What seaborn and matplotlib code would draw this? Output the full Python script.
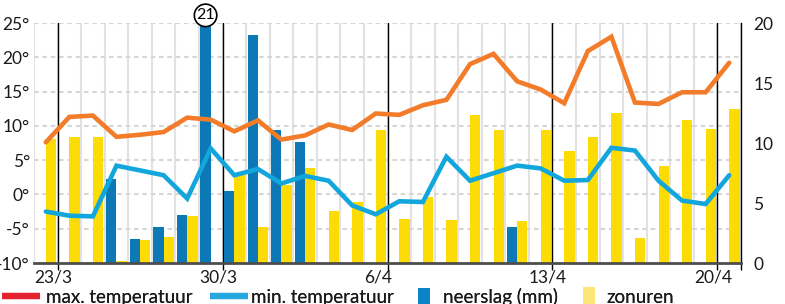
import numpy as np
import pandas as pd
import matplotlib
matplotlib.use("Agg")
import matplotlib.pyplot as plt
import matplotlib.transforms as mtransforms
from matplotlib.lines import Line2D
import seaborn as sns

# ---------------- data ----------------
day_index = list(range(30))
max_temp = [7.6, 11.3, 11.5, 8.4, 8.7, 9.1, 11.2, 10.9, 9.2, 10.8,
            8.0, 8.6, 10.2, 9.4, 11.8, 11.6, 13.0, 13.8, 19.0, 20.5,
            16.5, 15.3, 13.3, 20.9, 23.0, 13.4, 13.2, 14.9, 14.9, 19.2]
min_temp = [-2.5, -3.1, -3.2, 4.2, 3.5, 2.8, -0.6, 6.7, 2.8, 3.7,
            1.6, 2.7, 2.0, -1.6, -2.9, -1.0, -1.1, 5.5, 2.0, 3.1,
            4.2, 3.8, 2.0, 2.1, 6.8, 6.4, 2.0, -0.9, -1.4, 2.8]
rain_mm = [0, 0, 0, 7.0, 2.0, 3.0, 4.0, 21, 6.0, 19.0,
           11.1, 10.1, 0, 0, 0, 0, 0, 0, 0, 0,
           3.0, 0, 0, 0, 0, 0, 0, 0, 0, 0]
sun_hours = [10.3, 10.5, 10.5, 0.2, 1.9, 2.2, 3.9, 0, 7.3, 3.0,
             6.5, 7.9, 4.3, 5.1, 11.1, 3.7, 5.5, 3.6, 12.3, 11.1,
             3.5, 11.1, 9.3, 10.5, 12.5, 2.1, 8.1, 11.9, 11.2, 12.8]
date_labels = ["23/3", "30/3", "6/4", "13/4", "20/4"]
label_days = [0, 7, 14, 21, 28]
temp_ticks = [-10, -5, 0, 5, 10, 15, 20, 25]
bar_ticks = [0, 5, 10, 15, 20]
legend_labels = ["max. temperatuur", "min. temperatuur", "neerslag (mm)", "zonuren"]

# ---------------- style ----------------
ORANGE = "#f27c2a"
CYAN = "#12a6dd"
RAIN = "#0d78b6"
SUN = "#fcdc04"
LEG_MAX = "#e4222f"
LEG_MIN = "#27a8e0"
LEG_RAIN = "#0a84c6"
LEG_SUN = "#fde577"
TXT = "#1a1a1a"

sns.set_style("white")
plt.rcParams["font.family"] = ["Lato", "DejaVu Sans"]

fig = plt.figure(figsize=(7.85, 3.04), dpi=100)
ax_bar = fig.add_axes([34 / 785, 1 - 263 / 304, (741 - 34) / 785, 240 / 304])
ax_t = ax_bar.twinx()

# bars (right axis scale)
bars_df = pd.DataFrame({
    "day": day_index * 2,
    "value": rain_mm + sun_hours,
    "kind": ["neerslag"] * len(day_index) + ["zonuren"] * len(day_index),
})
sns.barplot(data=bars_df, x="day", y="value", hue="kind",
            palette={"neerslag": RAIN, "zonuren": SUN}, dodge=True,
            width=0.88, errorbar=None, legend=False, saturation=1,
            linewidth=0, ax=ax_bar, zorder=2)

# temperature lines (left axis scale)
temp_df = pd.DataFrame({"day": day_index, "max": max_temp, "min": min_temp})
sns.lineplot(data=temp_df, x="day", y="min", color=CYAN, lw=3.3, ax=ax_t,
             solid_joinstyle="miter", zorder=3)
sns.lineplot(data=temp_df, x="day", y="max", color=ORANGE, lw=3.3, ax=ax_t,
             solid_joinstyle="miter", zorder=4)

ax_bar.set_xlim(-0.5, 29.5)
ax_bar.set_ylim(0, 20)
ax_t.set_ylim(-10, 25)
ax_bar.set_xlabel("")
ax_bar.set_ylabel("")
ax_t.set_xlabel("")
ax_t.set_ylabel("")

# vertical day grid and week lines
for b in np.arange(-0.5, 29.6, 1.0):
    ax_bar.axvline(b, color="#e2e2e2", lw=1.5, zorder=0)
for d in label_days:
    ax_bar.axvline(d + 0.5, color="black", lw=1.0, zorder=1)

# horizontal dashed grid at temperature ticks
trans = mtransforms.blended_transform_factory(ax_bar.transAxes, ax_t.transData)
for v in temp_ticks[1:]:
    ax_bar.add_artist(Line2D([0, 1], [v, v], transform=trans, color="#d6d6d6",
                             lw=1.5, ls=(0, (2.2, 1.8)), zorder=0.5))

# y ticks
ax_bar.yaxis.tick_right()
ax_bar.set_yticks(bar_ticks, labels=[str(v) for v in bar_ticks])
ax_t.yaxis.tick_left()
ax_t.set_yticks(temp_ticks, labels=[f"{v}°" for v in temp_ticks])
ax_bar.tick_params(axis="y", length=0, pad=9, labelsize=12.5, labelcolor=TXT)
ax_t.tick_params(axis="y", length=0, pad=3, labelsize=12.5, labelcolor=TXT)

# x ticks
ax_bar.set_xticks([d - 0.5 for d in label_days], labels=date_labels)
for lbl in ax_bar.get_xticklabels():
    lbl.set_horizontalalignment("left")
ax_bar.set_xticks([d + 0.5 for d in label_days] + [29.5], minor=True)
ax_bar.tick_params(axis="x", which="major", length=0, pad=5, labelsize=12.5, labelcolor=TXT)
ax_bar.tick_params(axis="x", which="minor", length=5, width=1, color="black", direction="out")
ax_bar.xaxis.set_ticks_position("bottom")

# spines
for s in ax_t.spines.values():
    s.set_visible(False)
ax_bar.spines["top"].set_visible(False)
ax_bar.spines["left"].set_visible(False)
ax_bar.spines["right"].set_color("black")
ax_bar.spines["right"].set_linewidth(1.0)
ax_bar.spines["bottom"].set_color("#4d4d4d")
ax_bar.spines["bottom"].set_linewidth(2.0)

# clipped rain value annotation
for i, r in enumerate(rain_mm):
    if r > bar_ticks[-1]:
        ax_bar.annotate(f"{r:g}", xy=(i - 0.22, bar_ticks[-1]), xytext=(0, 5.5),
                        textcoords="offset points", ha="center", va="center",
                        fontsize=11.5, color="black", annotation_clip=False, zorder=6,
                        bbox=dict(boxstyle="circle,pad=0.12", fc="white", ec="black", lw=1.2))

# legend entries, each anchored where the reference places it
rect = [(-0.35, -0.5), (0.35, -0.5), (0.35, 0.5), (-0.35, 0.5), (-0.35, -0.5)]
handles = [Line2D([], [], color=LEG_MAX, lw=4.5, solid_capstyle="butt"),
           Line2D([], [], color=LEG_MIN, lw=4.5, solid_capstyle="butt"),
           Line2D([], [], marker=rect, ls="none", markersize=13, color=LEG_RAIN, markeredgewidth=0),
           Line2D([], [], marker=rect, ls="none", markersize=13, color=LEG_SUN, markeredgewidth=0)]
anchors_px = [2, 210, 417, 582]
hlen = [2.0, 2.0, 0.7, 0.7]
hpad = [0.37, 0.2, 0.7, 0.6]
for h, lab, xa, hl, hp in zip(handles, legend_labels, anchors_px, hlen, hpad):
    fig.add_artist(fig.legend([h], [lab], loc="center left",
                              bbox_to_anchor=(xa / 785, 0.022), frameon=False,
                              fontsize=13.5, handlelength=hl, handletextpad=hp,
                              borderpad=0.0, borderaxespad=0.0, labelcolor=TXT))

fig.savefig("out.png", dpi=100)
